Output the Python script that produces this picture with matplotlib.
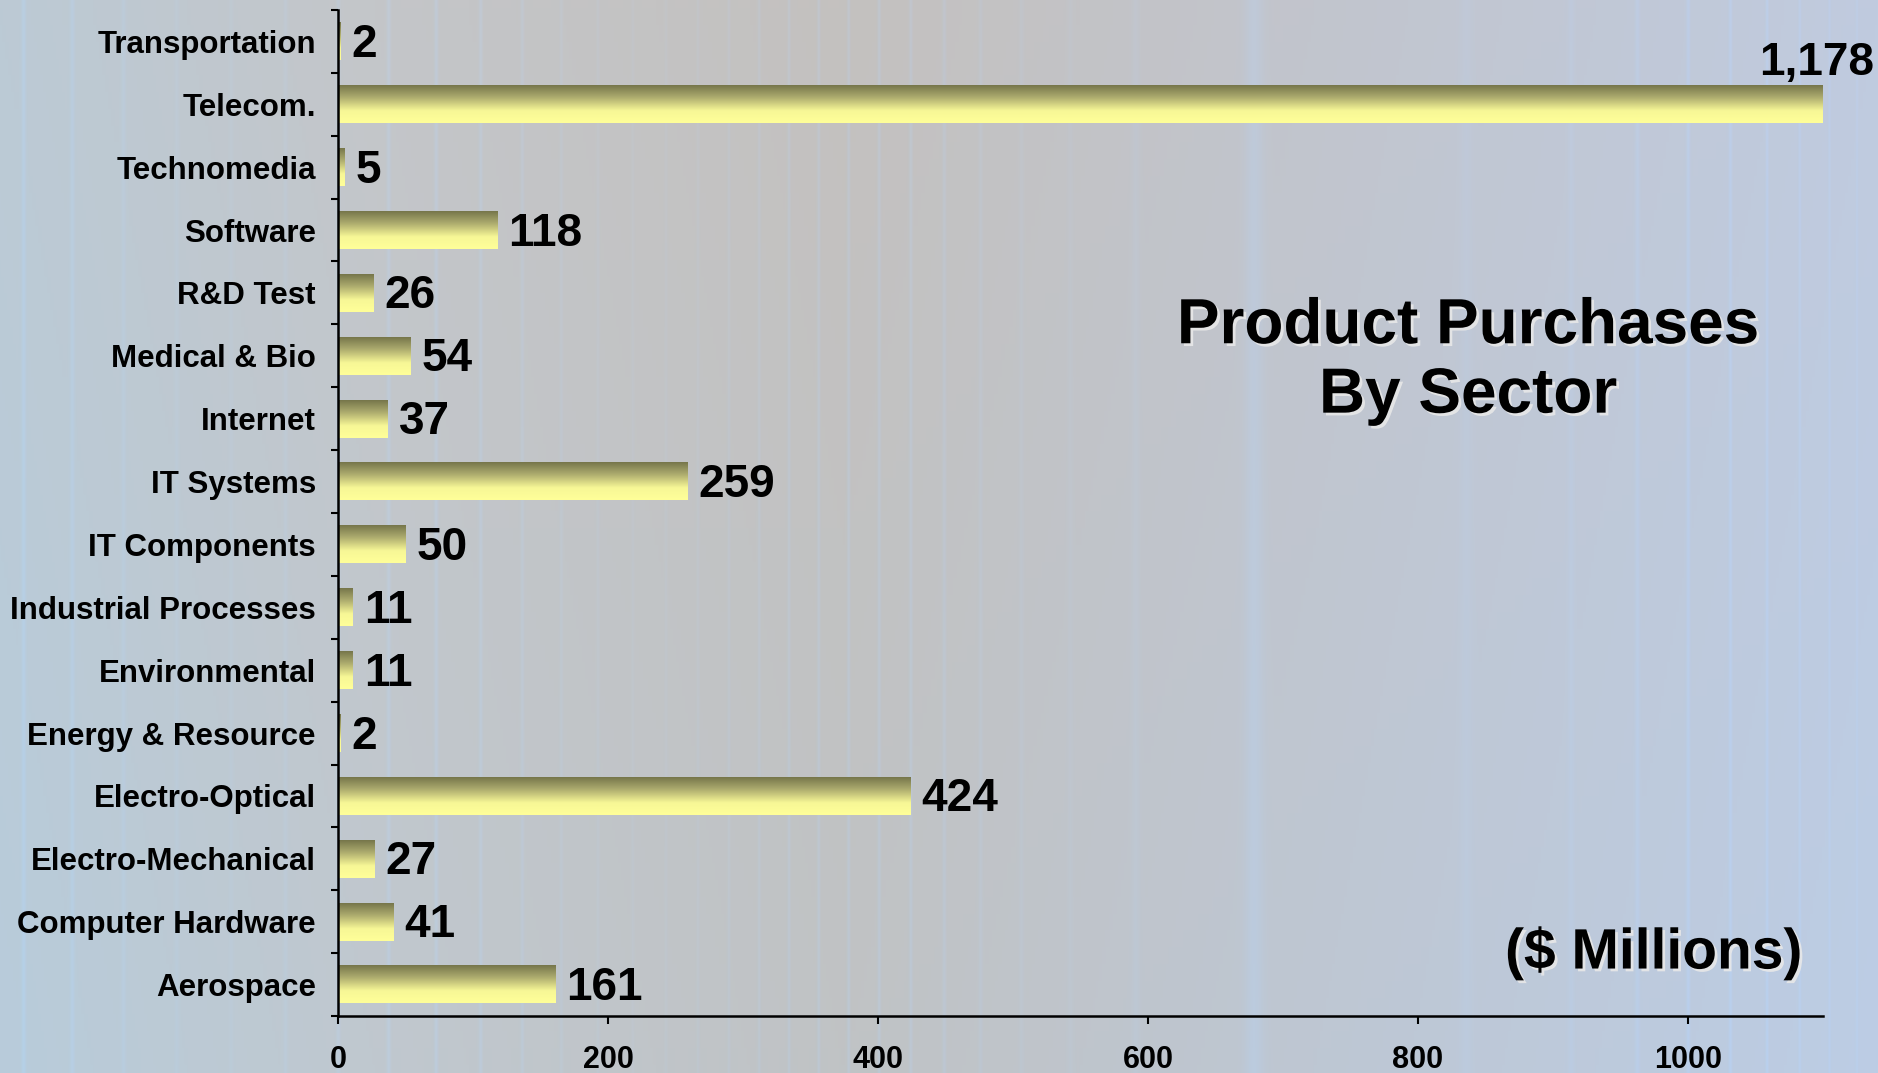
import matplotlib
matplotlib.use("Agg")
import matplotlib.pyplot as plt
import matplotlib.patheffects as pe
import numpy as np
from matplotlib.colors import LinearSegmentedColormap

plt.rcParams["font.family"] = ["Liberation Sans", "DejaVu Sans"]
plt.rcParams["font.weight"] = "bold"

sectors = ["Aerospace", "Computer Hardware", "Electro-Mechanical", "Electro-Optical",
           "Energy & Resource", "Environmental", "Industrial Processes", "IT Components",
           "IT Systems", "Internet", "Medical & Bio", "R&D Test", "Software",
           "Technomedia", "Telecom.", "Transportation"]
purchases = [161, 41, 27, 424, 2, 11, 11, 50, 259, 37, 54, 26, 118, 5, 1178, 2]
xticks = [0, 200, 400, 600, 800, 1000]
XMAX = 1100

W, H = 1878, 1073
fig = plt.figure(figsize=(W / 100, H / 100), dpi=100)

# backdrop: blue-grey sweep with soft vertical streaks
bg = fig.add_axes([0, 0, 1, 1], zorder=-10)
bg.set_axis_off()
xs = np.linspace(0, 1, W)
stops = np.array([0.0, 0.2, 0.45, 0.7, 1.0])
cols = np.array([[186, 203, 216], [194, 199, 204], [194, 194, 194],
                 [192, 198, 208], [190, 204, 226]], dtype=float)
base = np.stack([np.interp(xs, stops, cols[:, k]) for k in range(3)], axis=-1)
px = np.arange(W)
period = 46 + 6 * np.sin(px / 211.0)
phase = np.mod(px, period) - period / 2
streak = np.exp(-phase ** 2 / 5.0) * (0.35 + 0.65 * np.cos(px / 137.0) ** 2)
tint = np.array([-3, 5, 14])
row = base + streak[:, None] * tint[None, :]
yy = np.linspace(0, 1, 64)[:, None, None]
img = row[None, :, :] + (yy - 0.5) * np.array([-4, 2, 6])[None, None, :]
bg.imshow(np.clip(img, 0, 255).astype(np.uint8), aspect="auto", extent=[0, 1, 0, 1],
          interpolation="bilinear")
bg.set_xlim(0, 1)
bg.set_ylim(0, 1)

ax = fig.add_axes([0.18, 0.0531, 0.9707 - 0.18, 0.9907 - 0.0531])
ax.patch.set_alpha(0)

bar_cmap = LinearSegmentedColormap.from_list(
    "olive", [(0.0, "#76764a"), (0.3, "#a9a86c"), (0.68, "#f7f796"), (1.0, "#ffff99")])
grad = np.linspace(0, 1, 128)[:, None]
half = 0.3
for i, v in enumerate(purchases):
    ax.imshow(grad, cmap=bar_cmap, aspect="auto", origin="upper",
              extent=[0, v, i - half, i + half], interpolation="bilinear", zorder=2)
    if v > XMAX:
        ax.text(XMAX - 5, i + 0.66, f"{v:,}", ha="center", va="center",
                fontsize=33, fontweight="bold", zorder=3)
    else:
        ax.annotate(f"{v:,}", (v, i), xytext=(8, -2.5), textcoords="offset points",
                    ha="left", va="center", fontsize=33, fontweight="bold", zorder=3)

ax.set_xlim(0, XMAX)
ax.set_ylim(-0.5, len(sectors) - 0.5)

ax.set_yticks(range(len(sectors)))
ax.set_yticklabels(sectors, fontsize=22.5, fontweight="bold")
ax.set_yticks(np.arange(-0.5, len(sectors), 1.0), minor=True)
ax.tick_params(axis="y", which="major", length=0, pad=16)
ax.tick_params(axis="y", which="minor", length=5, width=1.5, direction="out")
ax.set_xticks(xticks)
ax.set_xticklabels([str(t) for t in xticks], fontsize=22, fontweight="bold")
ax.tick_params(axis="x", length=6, width=1.5, pad=15, direction="out")

for side in ["top", "right"]:
    ax.spines[side].set_visible(False)
for side in ["left", "bottom"]:
    ax.spines[side].set_linewidth(1.8)
    ax.spines[side].set_color("black")

shadow = [pe.withSimplePatchShadow(offset=(2, -2), shadow_rgbFace="#e8e8e8", alpha=0.9)]
fig.text(0.7817, 0.6636, "Product Purchases\nBy Sector", ha="center", va="center",
         fontsize=46, fontweight="bold", path_effects=shadow)
fig.text(0.8807, 0.1118, "($ Millions)", ha="center", va="center",
         fontsize=41, fontweight="bold", path_effects=shadow)

fig.savefig("out.png", dpi=100)
